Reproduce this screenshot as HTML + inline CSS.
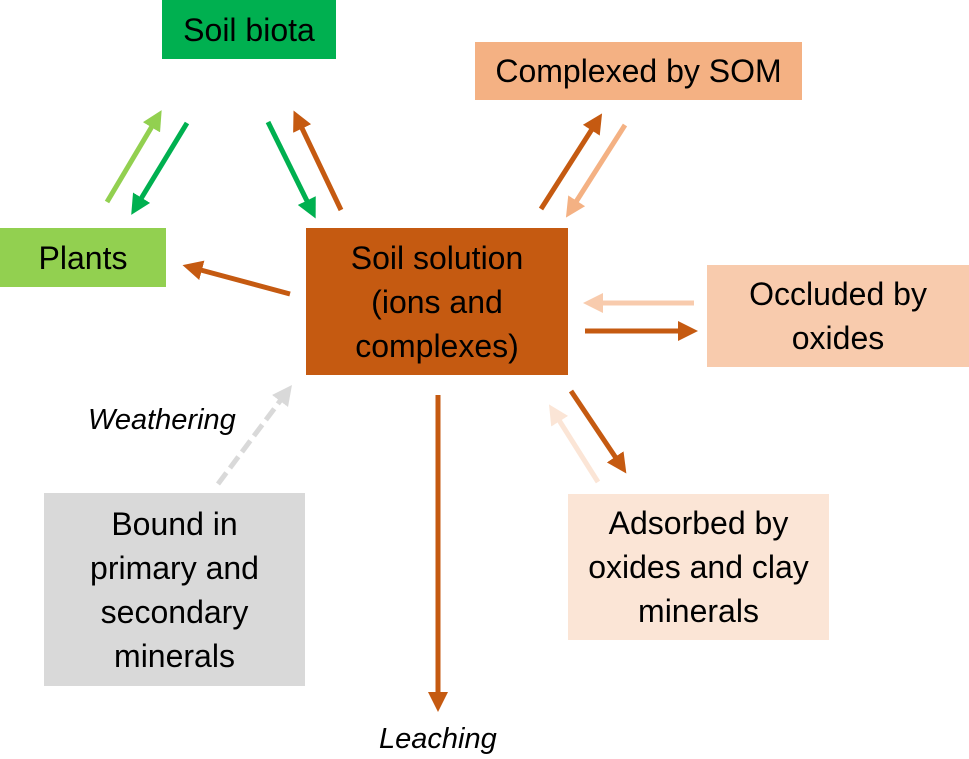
<!DOCTYPE html>
<html><head><style>
body{margin:0;width:969px;height:759px;background:#fff;overflow:hidden;position:relative;font-family:"Liberation Sans",Carlito,sans-serif;}
.b{position:absolute;display:flex;align-items:center;justify-content:center;text-align:center;font-size:32px;line-height:44px;color:#000;}
.l{position:absolute;font-size:29px;font-style:italic;}
svg{position:absolute;left:0;top:0}
</style></head><body>
<div class="b" style="left:162px;top:0;width:174px;height:59px;background:#00b050">Soil biota</div>
<div class="b" style="left:475px;top:42px;width:327px;height:58px;background:#f4b183">Complexed by SOM</div>
<div class="b" style="left:0;top:228px;width:166px;height:59px;background:#92d050">Plants</div>
<div class="b" style="left:306px;top:228px;width:262px;height:147px;background:#c55a11">Soil solution<br>(ions and<br>complexes)</div>
<div class="b" style="left:707px;top:265px;width:262px;height:102px;background:#f8cbad">Occluded by<br>oxides</div>
<div class="b" style="left:568px;top:494px;width:261px;height:146px;background:#fbe5d6">Adsorbed by<br>oxides and clay<br>minerals</div>
<div class="b" style="left:44px;top:493px;width:261px;height:193px;background:#d9d9d9">Bound in<br>primary and<br>secondary<br>minerals</div>
<div class="l" style="left:88px;top:404px">Weathering</div>
<div class="l" style="left:379px;top:723px">Leaching</div>
<svg width="969" height="759">
<defs>
<marker id="m" markerWidth="4" markerHeight="4" refX="1" refY="2" orient="auto" markerUnits="strokeWidth"><path d="M0,0L4,2L0,4z" fill="context-stroke"/></marker>
</defs>
<g stroke-width="5" fill="none">
<line x1="107" y1="202" x2="154" y2="123" stroke="#92d050" marker-end="url(#m)"/>
<line x1="187" y1="123" x2="139" y2="202" stroke="#00b050" marker-end="url(#m)"/>
<line x1="268" y1="122" x2="309" y2="205" stroke="#00b050" marker-end="url(#m)"/>
<line x1="341" y1="210" x2="300" y2="124" stroke="#c55a11" marker-end="url(#m)"/>
<line x1="290" y1="294" x2="197" y2="269" stroke="#c55a11" marker-end="url(#m)"/>
<line x1="541" y1="209" x2="594" y2="126" stroke="#c55a11" marker-end="url(#m)"/>
<line x1="625" y1="125" x2="574" y2="205" stroke="#f4b183" marker-end="url(#m)"/>
<line x1="694" y1="303" x2="598" y2="303" stroke="#f8cbad" marker-end="url(#m)"/>
<line x1="585" y1="331" x2="683" y2="331" stroke="#c55a11" marker-end="url(#m)"/>
<line x1="571" y1="391" x2="618" y2="461" stroke="#c55a11" marker-end="url(#m)"/>
<line x1="598" y1="482" x2="557" y2="417" stroke="#fbe5d6" marker-end="url(#m)"/>
<line x1="438" y1="395" x2="438" y2="697" stroke="#c55a11" marker-end="url(#m)"/>
<line x1="218" y1="484" x2="283" y2="397" stroke="#d9d9d9" stroke-dasharray="14,6" marker-end="url(#m)"/>
</g>
</svg>
</body></html>
